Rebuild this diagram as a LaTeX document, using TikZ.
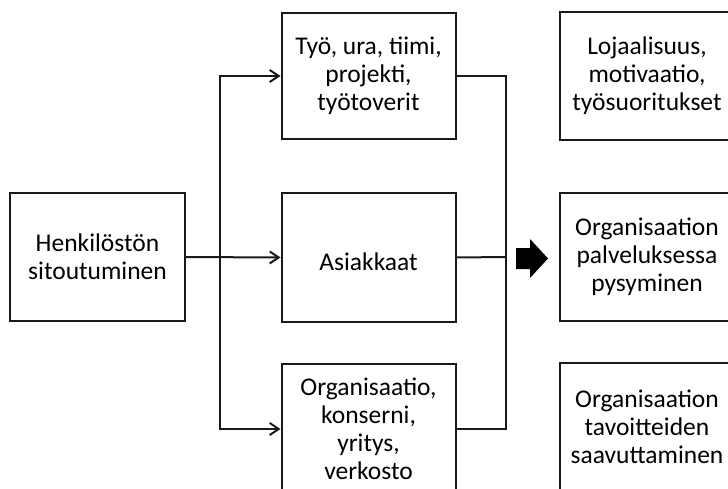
\documentclass[tikz,border=0pt]{standalone}
\usepackage{fontspec}
\setmainfont{Carlito}
\usetikzlibrary{arrows.meta}
\begin{document}
\begin{tikzpicture}[x=1pt,y=-1pt,
  box/.style={draw=black!90, line width=2pt, minimum width=174pt, minimum height=128pt, inner sep=0pt, align=center, font=\fontsize{25.5}{28}\selectfont, execute at begin node={\rule{0pt}{27pt}}},
  conn/.style={line width=2pt, draw=black!90},
  arr/.style={conn, -{Straight Barb[length=9pt,width=12pt,line width=2pt]}},
  bigarrow/.style={fill=black, draw=none}
]
\useasboundingbox (0,0) rectangle (728,489);
\clip (0,0) rectangle (728,489);

\node[box, minimum width=175pt] (hs) at (97.5,257) {Henkilöstön\\sitoutuminen};

\node[box, minimum height=126pt] (t1) at (368.5,76) {Työ, ura, tiimi,\\projekti,\\työtoverit};
\node[box, minimum height=129pt] (t2) at (368.5,257.5) {Asiakkaat};
\node[box, minimum height=130pt] (t3) at (368.5,429) {Organisaatio,\\konserni,\\yritys,\\verkosto};

\node[box] (r1) at (647,76) {Lojaalisuus,\\motivaatio,\\työsuoritukset};
\node[box] (r2) at (647,257) {Organisaation\\palveluksessa\\pysyminen};
\node[box] (r3) at (647,427) {Organisaation\\tavoitteiden\\saavuttaminen};

\coordinate (j) at (220,257);
\coordinate (m) at (506,257);

\draw[arr] (hs.east) -- (t2.west);
\draw[arr] (j) |- (t1.west);
\draw[arr] (j) |- (t3.west);

\draw[conn] (t1.east) -| (m);
\draw[conn] (t3.east) -| (m);
\draw[conn] (t2.east) -- (m);

\fill[bigarrow] (516,248) -- (530,248) -- (530,239) -- (548,258.5) -- (530,278) -- (530,269) -- (516,269) -- cycle;
\end{tikzpicture}
\end{document}
